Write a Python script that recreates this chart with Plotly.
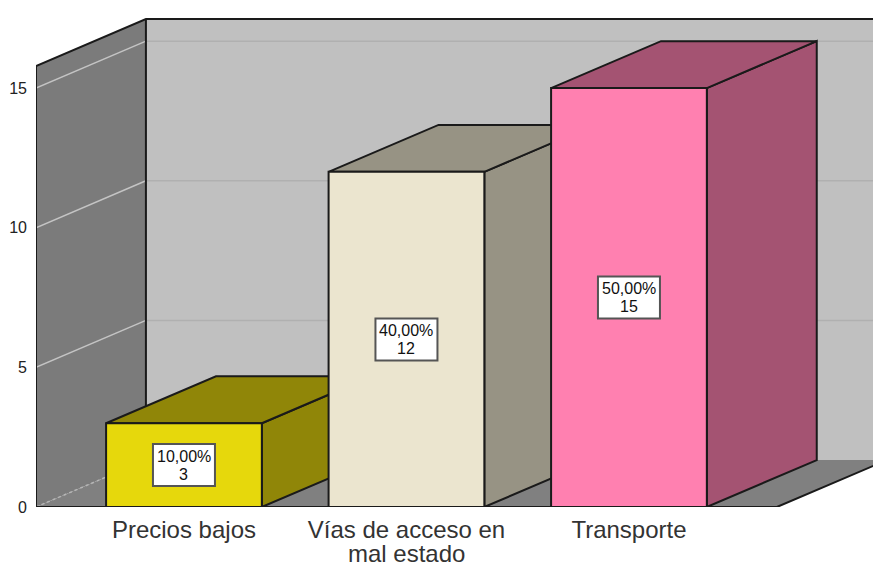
import plotly.graph_objects as go

categories = ["Precios bajos", "Vías de acceso en", "Transporte"]
counts = [3, 12, 15]
percents = ["10,00%", "40,00%", "50,00%"]
y_ticks = [0, 5, 10, 15]

front_colors = ["#e6d80c", "#ebe5cf", "#ff80b0"]
side_colors = ["#908608", "#979384", "#a45372"]

# oblique depth of the fake 3D box, in axis units
depth_x = 0.494
depth_y = 1.68
half_w = 0.35
x_left = -0.665
x_right = 2.665
wall_top = 15.79
font = "Liberation Sans, Arial, sans-serif"
ink = "#1a1a1a"

fig = go.Figure()


def face(xs, ys, fill, line=ink, width=2):
    # width 0 gives a face with no outline
    fig.add_trace(go.Scatter(
        x=xs + xs[:1], y=ys + ys[:1], mode="lines", fill="toself", fillcolor=fill,
        line=dict(color=line, width=width), hoverinfo="skip", showlegend=False
    ))


def edge(xs, ys, color, width=1.5, dash="solid"):
    fig.add_trace(go.Scatter(
        x=xs, y=ys, mode="lines", line=dict(color=color, width=width, dash=dash),
        hoverinfo="skip", showlegend=False
    ))


# Walls and floor
back_l = x_left + depth_x
back_r = x_right + depth_x
face([back_l, back_r, back_r, back_l], [depth_y, depth_y, wall_top + depth_y, wall_top + depth_y], "#c0c0c0", width=0)
face([x_left, back_l, back_l, x_left], [0, depth_y, wall_top + depth_y, wall_top], "#7b7b7b", width=0)
face([x_left, x_right, back_r, back_l], [0, 0, depth_y, depth_y], "#808080", width=0)

for v in y_ticks:
    if v == 0:
        edge([x_left, back_l], [0, depth_y], "#b5b5b5", 1.5, "dot")
        continue
    edge([x_left, back_l], [v, v + depth_y], "#c4c4c4")
    edge([back_l, back_r], [v + depth_y, v + depth_y], "#b0b0b0")

# Outlines of the box, no line on the far floor edge
edge([x_left, x_left, back_l, back_r], [0, wall_top, wall_top + depth_y, wall_top + depth_y], ink, 2)
edge([back_l, back_l], [depth_y, wall_top + depth_y], ink, 2)
edge([x_left, x_right, back_r], [0, 0, depth_y], ink, 2)

# Bars, left to right so each one covers the side of the previous
for i, v in enumerate(counts):
    l, r = i - half_w, i + half_w
    face([r, r + depth_x, r + depth_x, r], [0, depth_y, v + depth_y, v], side_colors[i])
    face([l, l + depth_x, r + depth_x, r], [v, v + depth_y, v + depth_y, v], side_colors[i])
    face([l, r, r, l], [0, 0, v, v], front_colors[i])

# Value boxes
for i, v in enumerate(counts):
    fig.add_shape(
        type="rect", xref="x", yref="y", xsizemode="pixel", ysizemode="pixel",
        xanchor=i, yanchor=v / 2, x0=-31, x1=31, y0=-21, y1=21,
        fillcolor="white", line=dict(color="#555555", width=2)
    )
    for txt, shift in [(percents[i], 9), (str(v), -9)]:
        fig.add_annotation(
            x=i, y=v / 2, text=txt, showarrow=False, yshift=shift,
            font=dict(family=font, size=16, color="#111111")
        )

# second line of the wrapped category label
fig.add_annotation(
    x=1, y=0, text="mal estado", showarrow=False, yshift=-46,
    font=dict(family=font, size=24, color="#333333")
)

fig.update_layout(
    width=873,
    height=563,
    autosize=False,
    margin=dict(l=36, r=0, t=10, b=56),
    paper_bgcolor="white",
    plot_bgcolor="white",
    xaxis=dict(
        range=[x_left, x_left + 837 / 222.5],
        tickvals=[0, 1, 2],
        ticktext=categories,
        showgrid=False,
        zeroline=False,
        showline=False,
        ticks="",
        ticklabelstandoff=6,
        tickfont=dict(family=font, size=24, color="#333333")
    ),
    yaxis=dict(
        range=[0, 497 / 27.93],
        tickvals=y_ticks,
        showgrid=False,
        zeroline=False,
        showline=False,
        ticks="",
        ticklabelstandoff=8,
        tickfont=dict(family=font, size=16, color="#222222")
    )
)

# page has a default body margin, drop it so the chart fills the window
fig.write_html(
    "out.html",
    config=dict(displayModeBar=False),
    post_script="document.body.style.margin = '0';"
)
